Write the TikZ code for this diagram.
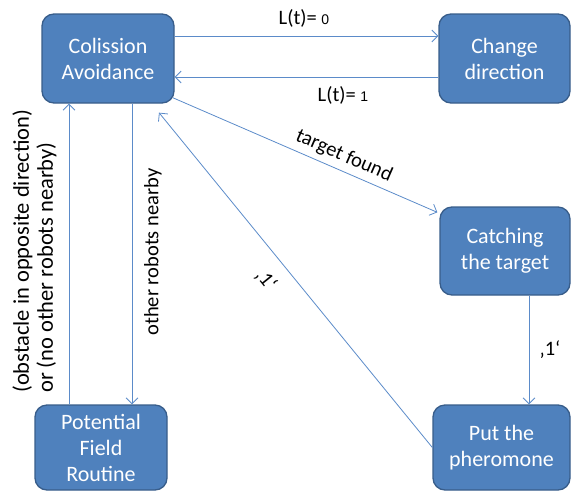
\documentclass[tikz,border=0pt]{standalone}
\usepackage{fontspec}
\setmainfont{Carlito}
\newfontfamily\arialf{Liberation Sans}
\usetikzlibrary{arrows.meta}
\definecolor{boxfill}{HTML}{4F81BD}
\definecolor{boxline}{HTML}{385D8A}
\definecolor{arrcol}{HTML}{5B8BC9}
\tikzset{
  statebox/.style={draw=boxline, line width=1.3pt, fill=boxfill, rounded corners=12pt,
    text=white, align=center, inner sep=0pt,
    font=\fontsize{22}{26}\selectfont},
  arr/.style={draw=arrcol, line width=0.8pt, -{Straight Barb[length=6pt,width=12pt,line width=0.8pt]}},
  lbl/.style={font=\fontsize{20.5}{27}\selectfont, text=black, inner sep=0pt},
}
\begin{document}
\begin{tikzpicture}[x=1pt,y=-1pt]
\useasboundingbox (0,0) rectangle (571,491);
\node[statebox, minimum width=132pt, minimum height=89pt] (ca) at (108,58.5) {Colission\\Avoidance};
\node[statebox, minimum width=131pt, minimum height=89pt] (cd) at (504.5,58.5) {Change\\direction};
\node[statebox, minimum width=130pt, minimum height=88pt] (ct) at (505,251) {Catching\\the target};
\node[statebox, minimum width=137pt, minimum height=85pt] (pp) at (501.5,447.5) {Put the\\pheromone};
\node[statebox, minimum width=132pt, minimum height=85pt] (pf) at (101,447.5) {Potential\\Field\\Routine};

\draw[arr] ([yshift=22.5pt]ca.east) -- ([yshift=22.5pt]cd.west);
\draw[arr] ([yshift=-18.5pt]cd.west) -- ([yshift=-18.5pt]ca.east);
\draw[arr] ([xshift=-2pt,yshift=6pt]ca.south east) -- ([xshift=-2pt,yshift=-6pt]ct.north west);
\draw[arr] ([xshift=24pt]ct.south) -- ([xshift=24pt]ct.south |- pp.north);
\draw[arr] (pp.west) -- ([xshift=51pt,yshift=-9pt]ca.south);
\draw[arr] ([xshift=-32pt]pf.north) -- ([xshift=-32pt]pf.north |- ca.south);
\draw[arr] ([xshift=24pt]ca.south) -- ([xshift=24pt]ca.south |- pf.north);

\node[lbl] (l0) at (304,18) {L(t)= {\arialf\fontsize{14}{16}\selectfont 0}};
\node[lbl] (l1) at (343,95) {L(t)= {\arialf\fontsize{14}{16}\selectfont 1}};
\node[lbl, rotate=-23.6] (tf) at (344,156) {target found};
\node[lbl, rotate=-51] (o1) at (266,280) {‚1‘};
\node[lbl] (o2) at (550,350) {‚1‘};
\node[lbl, rotate=90] (orn) at (153,252) {other robots nearby};
\node[lbl, rotate=90, align=left, anchor=west, font=\fontsize{22.5}{24}\selectfont] (obs) at (34.5,393) {(obstacle in opposite direction)\\or (no other robots nearby)};
\end{tikzpicture}
\end{document}
